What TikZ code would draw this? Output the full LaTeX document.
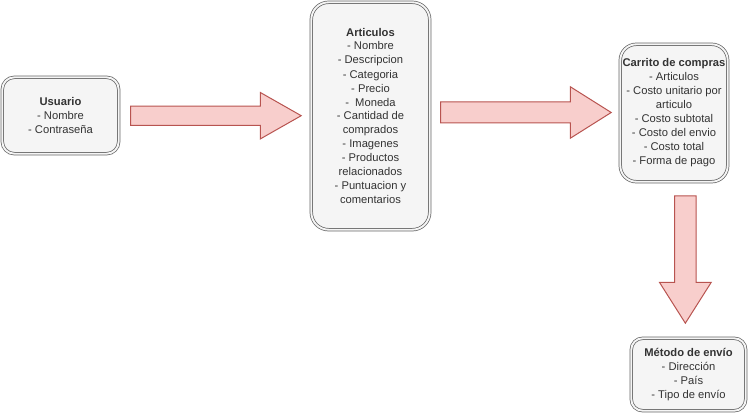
\documentclass[tikz,border=0pt]{standalone}
\usepackage{fontspec}
\setmainfont{Liberation Sans}
\usepackage{tikz}
\usetikzlibrary{shapes.arrows}

\definecolor{cajafondo}{HTML}{F5F5F5}
\definecolor{cajaborde}{HTML}{666666}
\definecolor{texto}{HTML}{333333}
\definecolor{flechafondo}{HTML}{F8CECC}
\definecolor{flechaborde}{HTML}{B85450}

\tikzset{
  entidad/.style={draw=cajaborde,line width=0.55pt,double=cajafondo,double distance=1.4pt,
    fill=cajafondo,align=center,inner sep=0pt,text=texto,
    font=\fontsize{8.4}{10.5}\selectfont},
  flecha/.style={single arrow,draw=flechaborde,fill=flechafondo,line width=0.75pt,
    anchor=tail,single arrow head indent=0pt}
}

\begin{document}
\begin{tikzpicture}[x=0.75pt,y=-0.75pt]
\useasboundingbox (0,0) rectangle (751,416);

% cajas
\node[entidad,rounded corners=9pt,minimum width=116.4*0.75pt,minimum height=76.4*0.75pt]
  (usuario) at (60.5,115.5) {\textbf{Usuario}\\- Nombre\\- Contraseña};
\node[entidad,rounded corners=13pt,minimum width=118.4*0.75pt,minimum height=227.4*0.75pt]
  (articulos) at (370.5,116) {\textbf{Articulos}\\- Nombre\\- Descripcion\\- Categoria\\- Precio\\- \ Moneda\\- Cantidad de\\comprados\\- Imagenes\\- Productos\\relacionados\\- Puntuacion y\\comentarios};
\node[entidad,rounded corners=12pt,minimum width=107.4*0.75pt,minimum height=137.4*0.75pt]
  (carrito) at (674,113) {\textbf{Carrito de compras}\\- Articulos\\- Costo unitario por\\articulo\\- Costo subtotal\\- Costo del envio\\- Costo total\\- Forma de pago};
\node[entidad,rounded corners=8.5pt,minimum width=114.4*0.75pt,minimum height=72.4*0.75pt]
  (metodo) at (688.5,374.5) {\textbf{Método de envío}\\- Dirección\\- País\\- Tipo de envío};

% flechas
\node[flecha,inner xsep=0pt,inner ysep=9.15*0.75pt,minimum height=170.7*0.75pt,
  single arrow head extend=13.55*0.75pt,single arrow tip angle=59.2] (f1) at (130,115.7) {};
\node[flecha,inner xsep=0pt,inner ysep=10*0.75pt,minimum height=170.7*0.75pt,
  single arrow head extend=15.2*0.75pt,single arrow tip angle=64.4] (f2) at (440,112.5) {};
\node[flecha,shape border rotate=270,inner ysep=0pt,inner xsep=10.35*0.75pt,minimum height=127.4*0.75pt,
  single arrow head extend=15*0.75pt,single arrow tip angle=64.7] (f3) at (685.35,195.3) {};

\end{tikzpicture}
\end{document}
